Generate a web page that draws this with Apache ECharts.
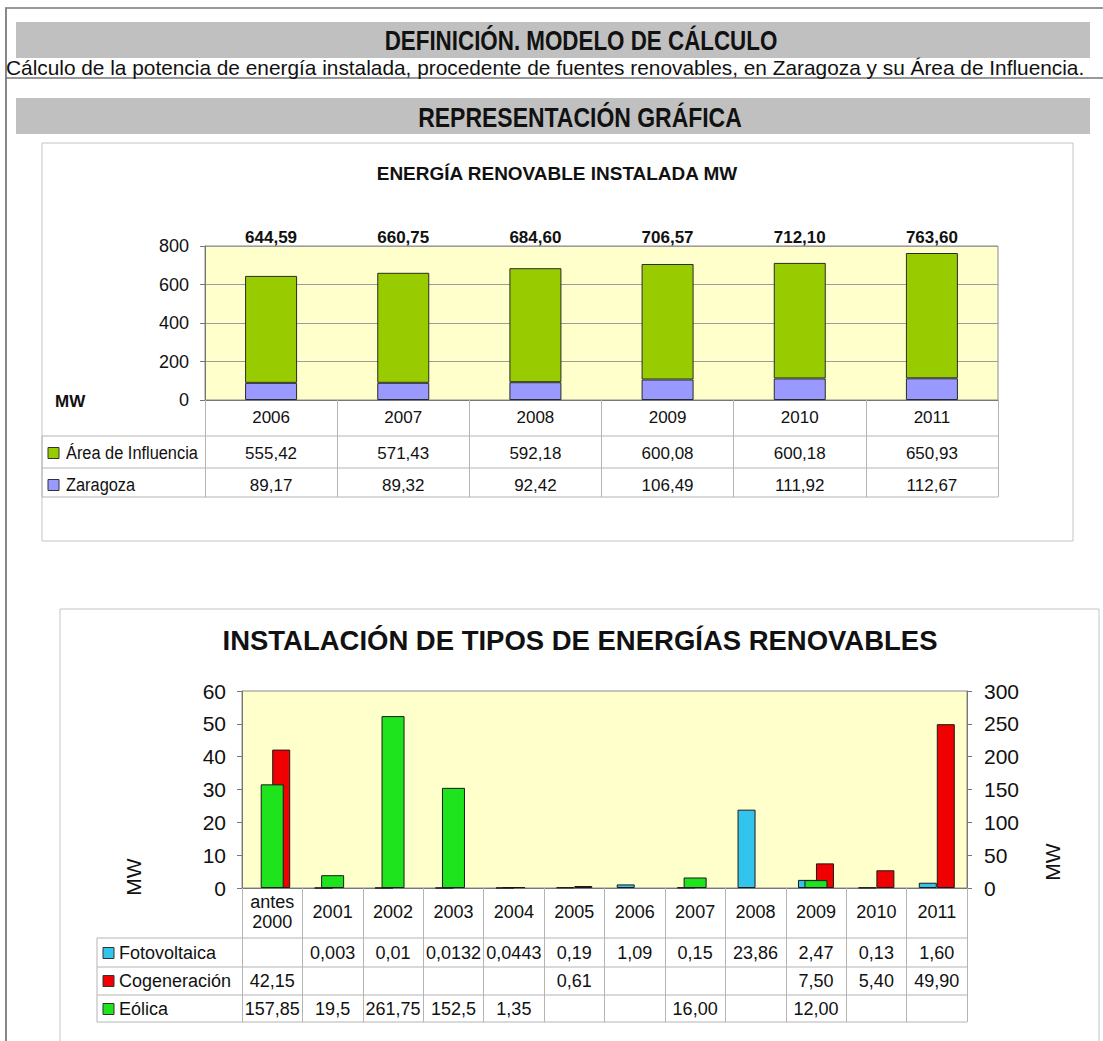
<!DOCTYPE html>
<html><head><meta charset="utf-8">
<script src="https://cdn.jsdelivr.net/npm/echarts@6/dist/echarts.min.js"></script>
<style>html,body{margin:0;padding:0;background:#fff}#c{width:1103px;height:1041px}</style>
</head><body><div id="c"></div><script>
// ---------- DATA ----------
const years1 = ['2006', '2007', '2008', '2009', '2010', '2011'];
const names1 = ['Área de Influencia', 'Zaragoza'];
const areaInfluencia = [555.42, 571.43, 592.18, 600.08, 600.18, 650.93];
const zaragoza = [89.17, 89.32, 92.42, 106.49, 111.92, 112.67];
const totals1 = [644.59, 660.75, 684.60, 706.57, 712.10, 763.60];

const cats2 = ['antes\n2000', '2001', '2002', '2003', '2004', '2005', '2006', '2007', '2008', '2009', '2010', '2011'];
const names2 = ['Fotovoltaica', 'Cogeneración', 'Eólica'];
const fotovoltaica = [null, 0.003, 0.01, 0.0132, 0.0443, 0.19, 1.09, 0.15, 23.86, 2.47, 0.13, 1.60];
const fotoDecimals = [null, 3, 2, 4, 4, 2, 2, 2, 2, 2, 2, 2];
const cogeneracion = [42.15, null, null, null, null, 0.61, null, null, null, 7.50, 5.40, 49.90];
const cogenDecimals = [2, null, null, null, null, 2, null, null, null, 2, 2, 2];
const eolica = [157.85, 19.5, 261.75, 152.5, 1.35, null, null, 16.00, null, 12.00, null, null];
const eolicaDecimals = [2, 1, 2, 1, 2, null, null, 2, null, 2, null, null];

// ---------- STYLE ----------
const ARIAL = "'Liberation Sans',Arial,sans-serif";
const TXT = '#111';
const LINE = '#b4b4b4';
const fmt = (v, d) => (v == null ? '' : v.toFixed(d).replace('.', ','));

const c1 = { left: 205, top: 246, right: 998, bottom: 400 };
const c2 = { left: 242, top: 691, right: 967, bottom: 888 };
const W = 1103, H = 1041;

const colors1 = ['#99cc00', '#9999ff'];
const colors2 = ['#33c4ee', '#f00000', '#1ee41e'];

// horizontal fit of a text (emulates the condensed "Arial Narrow" face that is not installed)
const mctx = document.createElement('canvas').getContext('2d');
function fitScale(t, size, weight, target) {
  mctx.font = (weight || 'normal') + ' ' + size + 'px "Liberation Sans"';
  return target / mctx.measureText(t).width;
}

function hline(x1, x2, y, color, w) {
  return { type: 'line', shape: { x1: x1, y1: y, x2: x2, y2: y }, style: { stroke: color || LINE, lineWidth: w || 1 }, silent: true };
}
function vline(x, y1, y2, color, w) {
  return { type: 'line', shape: { x1: x, y1: y1, x2: x, y2: y2 }, style: { stroke: color || LINE, lineWidth: w || 1 }, silent: true };
}
function text(t, x, y, size, weight, align, extra) {
  return Object.assign({ type: 'text', x: x, y: y, silent: true,
    style: { text: t, fontSize: size, fontFamily: ARIAL, fontWeight: weight || 'normal', fill: TXT,
      align: align || 'center', verticalAlign: 'middle', textAlign: align || 'center', textVerticalAlign: 'middle' } }, extra || {});
}
function fitText(t, x, y, size, weight, align, target) {
  return text(t, x, y, size, weight, align, { scaleX: fitScale(t, size, weight, target) });
}
function keyBox(x, y, color) {
  return { type: 'rect', shape: { x: x, y: y - 5.5, width: 11, height: 11 }, style: { fill: color, stroke: '#333', lineWidth: 1 }, silent: true };
}

const subtitle = 'Cálculo de la potencia de energía instalada, procedente de fuentes renovables, en Zaragoza y su Área de Influencia.';
const graphics = [
  // page frame
  hline(5, W, 8, '#777', 1.5),
  vline(6, 8, H, '#888', 2),
  hline(5, W, 78, '#777', 1.5),
  // header bars
  { type: 'rect', shape: { x: 16, y: 22, width: 1074, height: 36 }, style: { fill: '#c0c0c0' }, silent: true },
  { type: 'rect', shape: { x: 16, y: 98, width: 1074, height: 36 }, style: { fill: '#c0c0c0' }, silent: true },
  fitText('DEFINICIÓN. MODELO DE CÁLCULO', 581, 41, 27, 'bold', 'center', 393),
  fitText(subtitle, 6, 67, 21, 'normal', 'left', 1079),
  fitText('REPRESENTACIÓN GRÁFICA', 580, 117, 27, 'bold', 'center', 324),
  // chart boxes
  { type: 'rect', shape: { x: 42, y: 143, width: 1031, height: 398 }, style: { fill: 'transparent', stroke: '#c4c4c4', lineWidth: 1 }, silent: true },
  { type: 'rect', shape: { x: 60, y: 609, width: 1039, height: 450 }, style: { fill: 'transparent', stroke: '#c4c4c4', lineWidth: 1 }, silent: true },
  // chart titles
  fitText('ENERGÍA RENOVABLE INSTALADA MW', 557, 173, 19, 'bold', 'center', 362),
  fitText('INSTALACIÓN DE TIPOS DE ENERGÍAS RENOVABLES', 580, 641, 27, 'bold', 'center', 715),
  // chart 1 axis unit
  text('MW', 55, 401, 17, 'bold', 'left'),
  // chart 2 axis units
  text('MW', 133, 877, 21, 'normal', 'center', { rotation: Math.PI / 2 }),
  text('MW', 1052, 862, 21, 'normal', 'center', { rotation: Math.PI / 2 }),
  // chart 1 table lines
  hline(42, c1.right, 436), hline(42, c1.right, 468), hline(42, c1.right, 497),
  vline(42, 436, 497),
  // chart 2 table lines
  hline(97, c2.right, 938), hline(97, c2.right, 967), hline(97, c2.right, 995), hline(97, c2.right, 1022),
  vline(97, 938, 1022)
];
// legend keys of the tables
const rowY1 = [453, 485];
const legendScale1 = fitScale(names1[0], 19, 'normal', 132);
names1.forEach((n, i) => {
  graphics.push(keyBox(48, rowY1[i], colors1[i]));
  graphics.push(text(n, 66, rowY1[i], 19, 'normal', 'left', { scaleX: legendScale1 }));
});
const rowY2 = [953, 981, 1009];
names2.forEach((n, i) => {
  graphics.push(keyBox(103, rowY2[i], colors2[i]));
  graphics.push(text(n, 119, rowY2[i], 18, 'normal', 'left'));
});

function rowAxis(grid, data, offset, margin, values, decs, size) {
  return {
    type: 'category', gridIndex: grid, data: data, position: 'bottom', offset: offset,
    axisLine: { show: false }, axisTick: { show: false }, splitLine: { show: false },
    axisLabel: { interval: 0, margin: margin, verticalAlign: 'middle', color: TXT, fontFamily: ARIAL, fontSize: size,
      formatter: (v, i) => fmt(values[i], decs[i]) }
  };
}

const option = {
  animation: false,
  backgroundColor: '#ffffff',
  graphic: { elements: graphics },
  grid: [
    { left: c1.left, top: c1.top, right: W - c1.right, bottom: H - c1.bottom, show: true, backgroundColor: '#ffffcc', borderColor: '#8a8a8a', borderWidth: 1, containLabel: false },
    { left: c2.left, top: c2.top, right: W - c2.right, bottom: H - c2.bottom, show: true, backgroundColor: '#ffffcc', borderColor: '#8a8a8a', borderWidth: 1, containLabel: false }
  ],
  xAxis: [
    { // 0: chart 1 years (+ table verticals)
      type: 'category', gridIndex: 0, data: years1, position: 'bottom',
      axisLine: { lineStyle: { color: '#777' } },
      axisTick: { show: true, interval: 0, alignWithLabel: false, length: 97, lineStyle: { color: LINE } },
      axisLabel: { interval: 0, margin: 17, verticalAlign: 'middle', color: TXT, fontFamily: ARIAL, fontSize: 17 },
      splitLine: { show: false }
    },
    { // 1: chart 1 totals above plot
      type: 'category', gridIndex: 0, data: years1, position: 'top',
      axisLine: { show: false }, axisTick: { show: false }, splitLine: { show: false },
      axisLabel: { interval: 0, margin: 9, verticalAlign: 'middle', color: TXT, fontFamily: ARIAL, fontSize: 17, fontWeight: 'bold',
        formatter: (v, i) => fmt(totals1[i], 2) }
    },
    rowAxis(0, years1, 36, 17, areaInfluencia, years1.map(() => 2), 17), // 2
    rowAxis(0, years1, 68, 17, zaragoza, years1.map(() => 2), 17),       // 3
    { // 4: chart 2 categories (+ table verticals)
      type: 'category', gridIndex: 1, data: cats2, position: 'bottom',
      axisLine: { lineStyle: { color: '#777' } },
      axisTick: { show: true, interval: 0, alignWithLabel: false, length: 134, lineStyle: { color: LINE } },
      axisLabel: { interval: 0, margin: 24, verticalAlign: 'middle', lineHeight: 20, color: TXT, fontFamily: ARIAL, fontSize: 18 },
      splitLine: { show: false }
    },
    { // 5: overlay axis for the secondary-axis series
      type: 'category', gridIndex: 1, data: cats2, position: 'bottom', show: false
    },
    rowAxis(1, cats2, 50, 15, fotovoltaica, fotoDecimals, 18),   // 6
    rowAxis(1, cats2, 79, 14, cogeneracion, cogenDecimals, 18),  // 7
    rowAxis(1, cats2, 107, 14, eolica, eolicaDecimals, 18)       // 8
  ],
  yAxis: [
    { type: 'value', gridIndex: 0, min: 0, max: 800, interval: 200,
      axisLine: { show: true, lineStyle: { color: '#777' } },
      axisTick: { show: true, length: 5, lineStyle: { color: '#777' } },
      axisLabel: { margin: 16, color: TXT, fontFamily: ARIAL, fontSize: 18 },
      splitLine: { show: true, lineStyle: { color: '#9c9c9c', width: 1 } } },
    { type: 'value', gridIndex: 1, position: 'left', min: 0, max: 60, interval: 10,
      axisLine: { show: true, lineStyle: { color: '#777' } },
      axisTick: { show: true, length: 5, lineStyle: { color: '#777' } },
      axisLabel: { margin: 16, color: TXT, fontFamily: ARIAL, fontSize: 21 },
      splitLine: { show: false } },
    { type: 'value', gridIndex: 1, position: 'right', min: 0, max: 300, interval: 50,
      axisLine: { show: true, lineStyle: { color: '#777' } },
      axisTick: { show: true, length: 5, lineStyle: { color: '#777' } },
      axisLabel: { margin: 17, color: TXT, fontFamily: ARIAL, fontSize: 21 },
      splitLine: { show: false } }
  ],
  series: [
    { name: names1[1], type: 'bar', stack: 'total', xAxisIndex: 0, yAxisIndex: 0, data: zaragoza, barWidth: 52,
      itemStyle: { color: colors1[1], borderColor: '#2a2a2a', borderWidth: 1 } },
    { name: names1[0], type: 'bar', stack: 'total', xAxisIndex: 0, yAxisIndex: 0, data: areaInfluencia, barWidth: 52,
      itemStyle: { color: colors1[0], borderColor: '#2a2a2a', borderWidth: 1 } },
    { name: names2[0], type: 'bar', xAxisIndex: 4, yAxisIndex: 1, data: fotovoltaica, barWidth: 18, barGap: '0%',
      itemStyle: { color: colors2[0], borderColor: '#1a1a1a', borderWidth: 1 } },
    { name: names2[1], type: 'bar', xAxisIndex: 4, yAxisIndex: 1, data: cogeneracion, barWidth: 18, barGap: '0%',
      itemStyle: { color: colors2[1], borderColor: '#1a1a1a', borderWidth: 1 } },
    { name: names2[2], type: 'bar', xAxisIndex: 5, yAxisIndex: 2, data: eolica, barWidth: 23, z: 3,
      itemStyle: { color: colors2[2], borderColor: '#1a1a1a', borderWidth: 1 } }
  ]
};

const chart = echarts.init(document.getElementById('c'), null, { renderer: 'svg', width: W, height: H });
chart.setOption(option);
</script></body></html>
